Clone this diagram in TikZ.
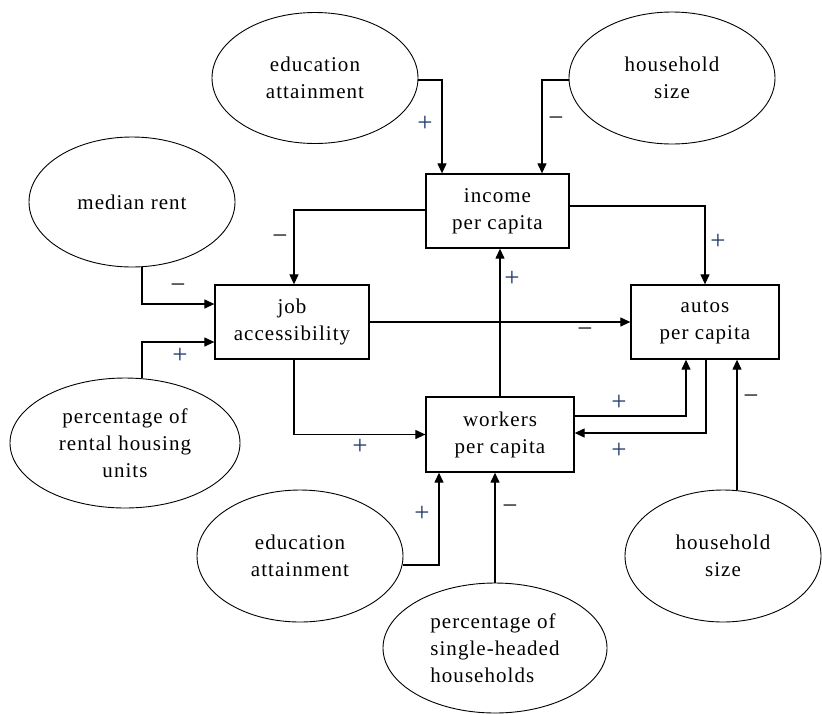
\documentclass[tikz,border=0pt]{standalone}
\usepackage{fontspec}
\setmainfont[LetterSpace=5]{Liberation Serif}
\usetikzlibrary{shapes.geometric,arrows.meta,calc}
\definecolor{pluscol}{RGB}{35,60,110}
\definecolor{minuscol}{RGB}{25,25,35}
\begin{document}
\begin{tikzpicture}[x=1pt,y=-1pt,
  every node/.style={font=\fontsize{21}{27}\selectfont},
  oval/.style={draw,ellipse,line width=0.9pt,inner sep=0pt,align=center},
  varbox/.style={draw,rectangle,line width=1.3pt,inner sep=0pt,align=center,minimum height=74pt},
  arr/.style={line width=1.2pt,-{Triangle[length=10pt,width=9pt]}},
  plus/.style={text=pluscol,inner sep=0pt,font=\fontsize{27}{27}\selectfont},
  minus/.style={text=minuscol,inner sep=0pt,font=\fontsize{27}{27}\selectfont}]
\useasboundingbox (0,0) rectangle (822,713);

% variables (boxes)
\node[varbox,minimum width=143pt] (inc) at (497.5,211) {income\\per capita};
\node[varbox,minimum width=154pt] (job) at (292,322) {job\\accessibility};
\node[varbox,minimum width=148pt] (autos) at (705,322) {autos\\per capita};
\node[varbox,minimum width=148pt,minimum height=75pt] (work) at (500,434.5) {workers\\per capita};

% exogenous (ellipses)
\node[oval,minimum width=206pt,minimum height=131pt] (edu1) at (315,78) {education\\attainment};
\node[oval,minimum width=206pt,minimum height=132pt] (hh1) at (672,78) {household\\size};
\node[oval,minimum width=206pt,minimum height=130pt] (rent) at (132,202) {median rent};
\node[oval,minimum width=230pt,minimum height=130pt] (rental) at (125,443) {percentage of\\rental housing\\units};
\node[oval,minimum width=206pt,minimum height=132pt] (edu2) at (300,556) {education\\attainment};
\node[oval,minimum width=224pt,minimum height=130pt,align=left] (single) at (495,648) {percentage of\\single-headed\\households};
\node[oval,minimum width=196pt,minimum height=132pt] (hh2) at (723,556) {household\\size};

% connectors
\draw[arr] ([yshift=-2]edu1.east) -| ([xshift=-55.5]inc.north);
\draw[arr] ([yshift=-2]hh1.west) -| ([xshift=44.5]inc.north);
\draw[arr] ([yshift=1]inc.west) -| ([xshift=2]job.north);
\draw[arr] ([yshift=5]inc.east) -| (autos.north);
\draw[arr] ([xshift=10]rent.south) |- ([yshift=18]job.west);
\draw[arr] ([xshift=17]rental.north) |- ([yshift=-20]job.west);
\draw[arr] (job.east) -- (autos.west);
\draw[arr] ([xshift=2]job.south) |- (work.west);
\draw[arr] (work.north) -- (work.north |- inc.south);
\draw[arr] ([yshift=18.5]work.east) -| ([xshift=-19]autos.south);
\draw[arr] ([xshift=1]autos.south) |- ([yshift=1.5]work.east);
\coordinate (hh2top) at ([xshift=14]hh2.north);
\draw[arr] (hh2top) -- (hh2top |- autos.south);
\draw[arr] ([yshift=-9]edu2.east) -| ([xshift=-61]work.south);
\draw[arr] (single.north) -- (single.north |- work.south);

% signs
\node[plus]  (s1)  at (425,124) {+};
\node[minus] (s2)  at (556,122) {−};
\node[minus] (s3)  at (280,240) {−};
\node[plus]  (s4)  at (718,242) {+};
\node[minus] (s5)  at (178,289) {−};
\node[plus]  (s6)  at (180,356) {+};
\node[minus] (s7)  at (585,333) {−};
\node[plus]  (s8)  at (360,447) {+};
\node[plus]  (s9)  at (512,279) {+};
\node[plus]  (s10) at (619,403) {+};
\node[plus]  (s11) at (619,451) {+};
\node[minus] (s12) at (751,400) {−};
\node[plus]  (s13) at (422,514) {+};
\node[minus] (s14) at (510,510) {−};
\end{tikzpicture}
\end{document}
